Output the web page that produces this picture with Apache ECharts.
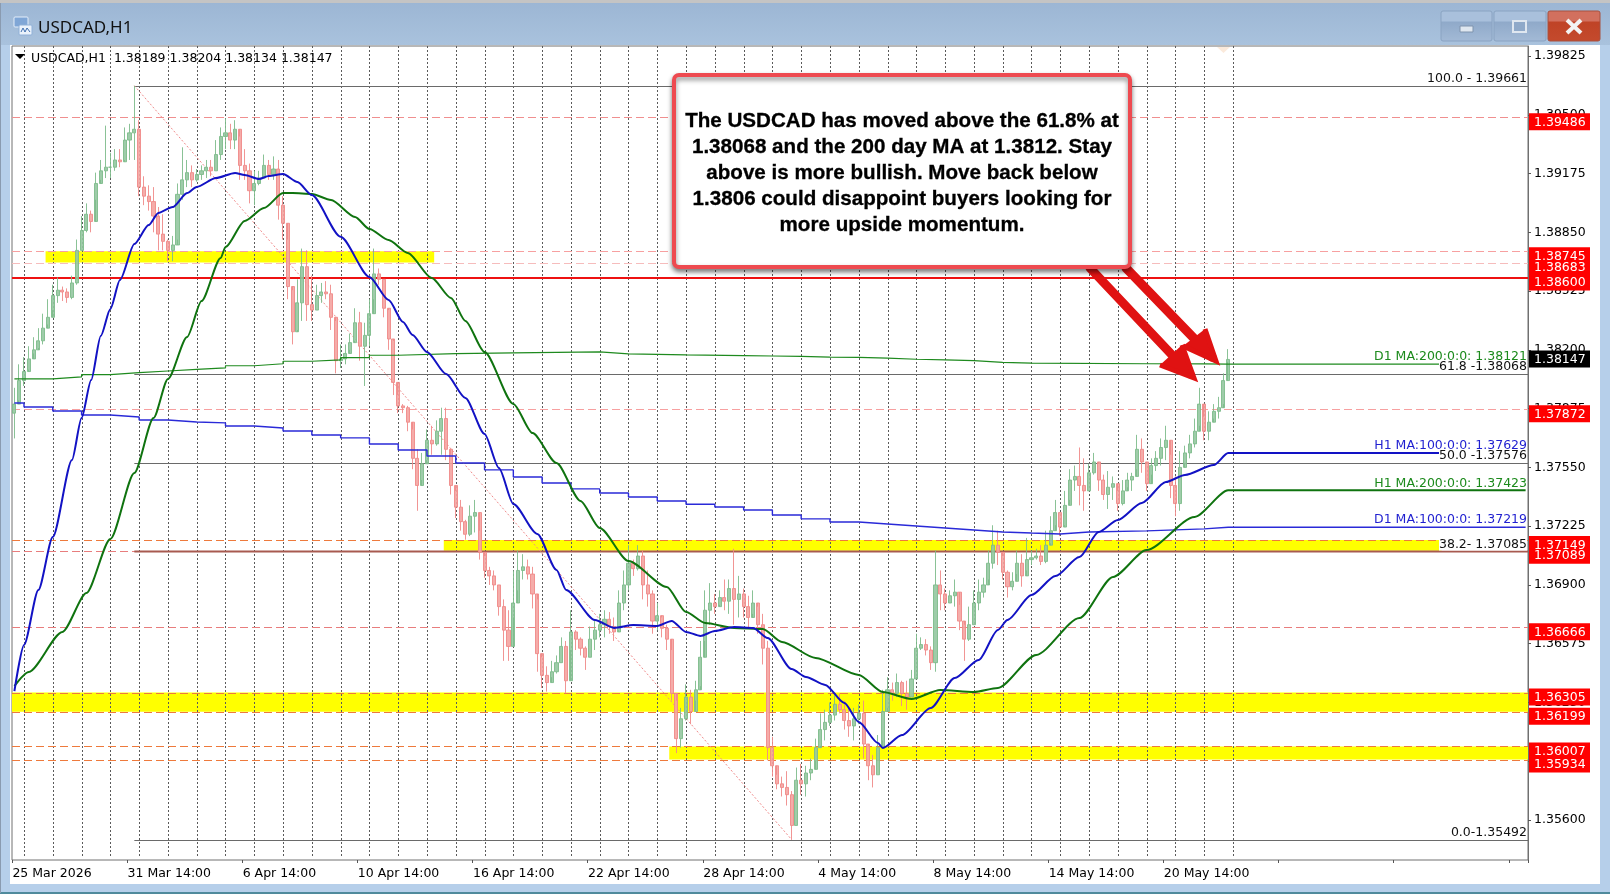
<!DOCTYPE html>
<html><head><meta charset="utf-8"><title>USDCAD,H1</title>
<style>html,body{margin:0;padding:0;background:#fff}#c{width:1610px;height:894px}</style>
<script src="https://cdn.jsdelivr.net/npm/echarts@6/dist/echarts.min.js"></script>
</head><body><div id="c"></div>
<script>
// ---- tick labels ----
const xTickLabels = ['25 Mar 2026','31 Mar 14:00','6 Apr 14:00','10 Apr 14:00','16 Apr 14:00','22 Apr 14:00','28 Apr 14:00','4 May 14:00','8 May 14:00','14 May 14:00','20 May 14:00'];
const yTicks = [1.39825,1.395,1.39175,1.3885,1.38525,1.382,1.37875,1.3755,1.37225,1.369,1.36575,1.3625,1.35925,1.356];
// ---- 4-hour price bars ----
const firstOpen = 1.3785;
const highs = [
1.3799,1.3812,1.3816,1.3822,1.3827,1.3832,1.3840,1.3848,1.3856,1.3860,
1.3855,1.3854,1.3861,1.3881,1.3894,1.3901,1.3897,1.3918,1.3925,1.3944,
1.3929,1.3931,1.3931,1.3943,1.3945,1.3966,1.3947,1.3916,1.3911,1.3910,
1.3899,1.3895,1.3881,1.3883,1.3912,1.3932,1.3925,1.3922,1.3920,1.3922,
1.3925,1.3925,1.3936,1.3943,1.3948,1.3945,1.3947,1.3938,1.3931,1.3923,
1.3919,1.3919,1.3928,1.3925,1.3927,1.3925,1.3905,1.3881,1.3853,1.3859,
1.3876,1.3875,1.3861,1.3856,1.3857,1.3858,1.3856,1.3836,1.3823,1.3823,
1.3829,1.3843,1.3841,1.3835,1.3848,1.3876,1.3865,1.3859,1.3842,1.3825,
1.3795,1.3790,1.3789,1.3776,1.3765,1.3763,1.3776,1.3778,1.3781,1.3788,
1.3788,1.3762,1.3742,1.3737,1.3726,1.3734,1.3737,1.3720,1.3706,1.3700,
1.3698,1.3690,1.3682,1.3676,1.3698,1.3709,1.3707,1.3704,1.3700,1.3682,
1.3650,1.3645,1.3648,1.3651,1.3661,1.3659,1.3676,1.3665,1.3661,1.3656,
1.3667,1.3670,1.3674,1.3676,1.3675,1.3672,1.3687,1.3698,1.3712,1.3704,
1.3712,1.3709,1.3698,1.3687,1.3680,1.3672,1.3668,1.3654,1.3626,1.3622,
1.3635,1.3632,1.3637,1.3659,1.3687,1.3691,1.3685,1.3687,1.3693,1.3693,
1.3710,1.3695,1.3688,1.3684,1.3687,1.3678,1.3674,1.3659,1.3606,1.3585,
1.3584,1.3587,1.3576,1.3589,1.3591,1.3590,1.3594,1.3605,1.3619,1.3621,
1.3625,1.3629,1.3630,1.3626,1.3623,1.3622,1.3624,1.3626,1.3601,1.3596,
1.3607,1.3632,1.3639,1.3636,1.3641,1.3637,1.3637,1.3643,1.3663,1.3661,
1.3660,1.3656,1.3709,1.3698,1.3688,1.3687,1.3693,1.3679,1.3668,1.3678,
1.3687,1.3693,1.3694,1.3709,1.3723,1.3720,1.3706,1.3698,1.3697,1.3709,
1.3707,1.3716,1.3709,1.3710,1.3712,1.3720,1.3728,1.3737,1.3730,1.3742,
1.3754,1.3756,1.3766,1.3760,1.3757,1.3763,1.3757,1.3751,1.3753,1.3750,
1.3742,1.3748,1.3752,1.3752,1.3773,1.3771,1.3757,1.3760,1.3764,1.3771,
1.3778,1.3762,1.3750,1.3764,1.3767,1.3773,1.3782,1.3799,1.3783,1.3786,
1.3790,1.3794,1.3807,1.38204];
const lows = [
1.3771,1.3792,1.3800,1.3809,1.3818,1.3821,1.3823,1.3834,1.3842,1.3846,
1.3847,1.3846,1.3848,1.3856,1.3875,1.3885,1.3885,1.3903,1.3914,1.3915,
1.3915,1.3919,1.3921,1.3925,1.3925,1.3925,1.3905,1.3900,1.3897,1.3885,
1.3875,1.3875,1.3869,1.3869,1.3881,1.3903,1.3910,1.3910,1.3913,1.3914,
1.3915,1.3916,1.3919,1.3925,1.3931,1.3931,1.3931,1.3914,1.3914,1.3901,
1.3900,1.3911,1.3915,1.3914,1.3914,1.3892,1.3881,1.3848,1.3823,1.3831,
1.3836,1.3836,1.3836,1.3842,1.3846,1.3848,1.3831,1.3807,1.3810,1.3812,
1.3820,1.3825,1.3814,1.3800,1.3822,1.3848,1.3856,1.3838,1.3820,1.3795,
1.3785,1.3785,1.3775,1.3754,1.3731,1.3748,1.3759,1.3762,1.3767,1.3762,
1.3759,1.3740,1.3727,1.3720,1.3715,1.3717,1.3719,1.3704,1.3694,1.3690,
1.3687,1.3673,1.3648,1.3648,1.3672,1.3687,1.3693,1.3693,1.3677,1.3642,
1.3633,1.3631,1.3639,1.3641,1.3647,1.3630,1.3654,1.3654,1.3651,1.3643,
1.3650,1.3654,1.3661,1.3661,1.3663,1.3659,1.3665,1.3676,1.3687,1.3695,
1.3698,1.3682,1.3678,1.3663,1.3665,1.3661,1.3654,1.3626,1.3597,1.3600,
1.3615,1.3613,1.3626,1.3634,1.3659,1.3668,1.3674,1.3679,1.3676,1.3674,
1.3668,1.3672,1.3672,1.3666,1.3674,1.3663,1.3646,1.3593,1.3584,1.3577,
1.3573,1.3568,1.3549,1.3557,1.3574,1.3573,1.3582,1.3593,1.3601,1.3604,
1.3612,1.3615,1.3619,1.3610,1.3606,1.3604,1.3613,1.3594,1.3582,1.3578,
1.3585,1.3604,1.3622,1.3626,1.3628,1.3623,1.3621,1.3628,1.3639,1.3654,
1.3651,1.3643,1.3642,1.3676,1.3676,1.3680,1.3678,1.3665,1.3648,1.3659,
1.3668,1.3676,1.3683,1.3693,1.3699,1.3701,1.3693,1.3683,1.3687,1.3696,
1.3689,1.3698,1.3701,1.3704,1.3701,1.3702,1.3713,1.3723,1.3717,1.3723,
1.3737,1.3742,1.3734,1.3731,1.3742,1.3751,1.3742,1.3737,1.3732,1.3737,
1.3731,1.3734,1.3744,1.3742,1.3754,1.3752,1.3742,1.3751,1.3753,1.3756,
1.3759,1.3738,1.3728,1.3731,1.3757,1.3760,1.3766,1.3778,1.3770,1.3770,
1.3782,1.3782,1.3790,1.38134];
const closes = [
1.3790,1.3803,1.3808,1.3815,1.3820,1.3825,1.3832,1.3838,1.3850,1.3853,
1.3852,1.3849,1.3857,1.3875,1.3886,1.3895,1.3891,1.3912,1.3919,1.3921,
1.3921,1.3925,1.3924,1.3936,1.3940,1.3942,1.3910,1.3905,1.3902,1.3894,
1.3884,1.3880,1.3875,1.3878,1.3906,1.3914,1.3918,1.3914,1.3917,1.3919,
1.3921,1.3919,1.3928,1.3938,1.3940,1.3936,1.3942,1.3922,1.3919,1.3908,
1.3912,1.3915,1.3922,1.3917,1.3920,1.3900,1.3890,1.3855,1.3830,1.3846,
1.3866,1.3845,1.3842,1.3850,1.3852,1.3851,1.3838,1.3814,1.3815,1.3818,
1.3824,1.3835,1.3822,1.3828,1.3840,1.3862,1.3859,1.3843,1.3826,1.3802,
1.3789,1.3788,1.3780,1.3760,1.3745,1.3757,1.3770,1.3768,1.3775,1.3782,
1.3765,1.3745,1.3733,1.3725,1.3718,1.3728,1.3730,1.3708,1.3698,1.3695,
1.3690,1.3678,1.3665,1.3656,1.3680,1.3698,1.3700,1.3696,1.3685,1.3652,
1.3640,1.3636,1.3642,1.3647,1.3656,1.3637,1.3664,1.3660,1.3655,1.3650,
1.3660,1.3665,1.3668,1.3671,1.3667,1.3664,1.3680,1.3690,1.3702,1.3699,
1.3706,1.3690,1.3685,1.3670,1.3673,1.3666,1.3660,1.3630,1.3605,1.3616,
1.3628,1.3620,1.3632,1.3650,1.3676,1.3680,1.3678,1.3683,1.3681,1.3688,
1.3682,1.3685,1.3678,1.3672,1.3680,1.3668,1.3655,1.3600,1.3590,1.3580,
1.3578,1.3574,1.3557,1.3582,1.3580,1.3586,1.3588,1.3600,1.3610,1.3614,
1.3618,1.3624,1.3621,1.3615,1.3612,1.3616,1.3619,1.3602,1.3590,1.3585,
1.3600,1.3620,1.3632,1.3630,1.3636,1.3630,1.3628,1.3638,1.3655,1.3657,
1.3654,1.3647,1.3690,1.3685,1.3680,1.3684,1.3686,1.3670,1.3660,1.3668,
1.3680,1.3686,1.3690,1.3702,1.3712,1.3708,1.3697,1.3689,1.3692,1.3702,
1.3695,1.3704,1.3705,1.3706,1.3703,1.3712,1.3720,1.3730,1.3722,1.3734,
1.3748,1.3750,1.3745,1.3742,1.3752,1.3758,1.3748,1.3740,1.3744,1.3746,
1.3735,1.3742,1.3748,1.3750,1.3765,1.3758,1.3746,1.3756,1.3760,1.3766,
1.3770,1.3745,1.3735,1.3755,1.3763,1.3768,1.3775,1.3790,1.3775,1.3780,
1.3786,1.3788,1.3803,1.38147];
// ---- moving averages: bar number and value ----
const h1Ma100Bars = [0,2,5,8,12,14,16,18,20,22,25,28,30,33,36,38,42,46,48,51,53,56,59,62,68,74,78,81,83,86,90,94,98,101,104,109,113,115,121,125,129,134,137,140,143,146,150,154,157,162,165,169,173,176,180,181,185,191,196,201,205,207,212,217,222,226,230,235,240,244,250,253,315];
const h1Ma100 = [1.36313,1.36568,1.36872,1.37165,1.37591,1.37823,1.38033,1.38277,1.38426,1.38586,1.38785,1.38890,1.38957,1.38990,1.39067,1.39101,1.39150,1.39178,1.39167,1.39145,1.39161,1.39172,1.39128,1.39056,1.38825,1.38603,1.38476,1.38354,1.38282,1.38188,1.38066,1.37934,1.37735,1.37547,1.37348,1.37182,1.36983,1.36872,1.36706,1.36662,1.36678,1.36673,1.36701,1.36640,1.36618,1.36645,1.36667,1.36662,1.36607,1.36435,1.36391,1.36347,1.36247,1.36142,1.36026,1.35998,1.36070,1.36219,1.36385,1.36485,1.36651,1.36706,1.36844,1.36949,1.37054,1.37193,1.37259,1.37353,1.37469,1.37508,1.37563,1.37629,1.37629];
const h1Ma200Bars = [0,3,10,15,20,25,29,32,36,39,43,44,48,52,56,58,62,66,71,74,78,82,87,91,94,98,104,108,113,118,122,128,136,140,144,150,156,160,167,176,181,187,193,200,205,213,222,229,236,246,253,315];
const h1Ma200 = [1.36341,1.36419,1.36640,1.36855,1.37154,1.37519,1.37823,1.38039,1.38271,1.38470,1.38708,1.38769,1.38913,1.38984,1.39067,1.39067,1.39062,1.39029,1.38935,1.38868,1.38807,1.38736,1.38597,1.38487,1.38360,1.38188,1.37901,1.37740,1.37574,1.37364,1.37215,1.37032,1.36889,1.36750,1.36689,1.36662,1.36656,1.36584,1.36496,1.36402,1.36308,1.36269,1.36319,1.36308,1.36330,1.36513,1.36717,1.36944,1.37093,1.37276,1.37423,1.37423];
const d1Ma200Bars = [0,8,14,20,26,32,38,44,50,56,62,68,74,80,92,104,122,128,134,140,152,158,164,170,176,182,188,194,200,206,212,236,248,253,315];
const d1Ma200 = [1.38039,1.38050,1.38063,1.38074,1.38083,1.38092,1.38100,1.38112,1.38123,1.38137,1.38144,1.38157,1.38170,1.38179,1.38183,1.38189,1.38178,1.38175,1.38172,1.38168,1.38166,1.38164,1.38160,1.38158,1.38154,1.38148,1.38145,1.38140,1.38131,1.38127,1.38123,1.38122,1.38121,1.38121,1.38121];
const d1Ma100Bars = [0,2,8,14,20,26,32,38,44,50,56,62,68,74,80,86,92,98,104,110,116,122,128,134,140,146,152,158,164,170,176,182,188,194,200,206,212,218,224,236,248,253,315];
const d1Ma100 = [1.37906,1.37884,1.37862,1.37840,1.37829,1.37812,1.37801,1.37796,1.37779,1.37768,1.37751,1.37729,1.37713,1.37679,1.37646,1.37613,1.37574,1.37536,1.37497,1.37464,1.37431,1.37408,1.37386,1.37364,1.37346,1.37331,1.37314,1.37287,1.37265,1.37248,1.37237,1.37226,1.37215,1.37204,1.37193,1.37187,1.37182,1.37193,1.37199,1.37210,1.37219,1.37219,1.37219];
const maLabels = ['D1 MA:200:0:0: 1.38121','H1 MA:100:0:0: 1.37629','H1 MA:200:0:0: 1.37423','D1 MA:100:0:0: 1.37219'];
const maLabelPrices = [1.38121,1.37629,1.37423,1.37219];
// ---- horizontal levels ----
const levelPrices = [1.39486,1.38683,1.38745,1.37872,1.37149,1.37089,1.36666,1.36305,1.36199,1.36007,1.35934];
const solidLevel = 1.386;
const lastPrice = 1.38147;
// ---- fibonacci ----
const fibPrices = [1.39661,1.38068,1.37576,1.37085,1.35492];
const fibLabels = ['100.0 - 1.39661','61.8 -1.38068','50.0 -1.37576','38.2- 1.37085','0.0-1.35492'];
const fibStartBar = 25, fibEndBar = 162;
// ---- yellow zones: first bar, last bar, upper, lower ----
const zoneStarts = [7,90,0,137];
const zoneEnds = [87,297,315,315];
const zoneTops = [1.38745,1.37149,1.36305,1.36007];
const zoneBottoms = [1.38683,1.37089,1.36199,1.35934];

const barsPerLabel = 24, slotCount = 316, lastSlot = slotCount - 1;
const categories = Array.from({length: slotCount}, (_, i) => i % barsPerLabel === 0 ? (xTickLabels[i / barsPerLabel] || '') : '');
const gridBars = []; for (let b = 2; b <= 254; b += 6) gridBars.push(b);
const ohlc = closes.map((c, i) => [i === 0 ? firstOpen : closes[i - 1], c, lows[i], highs[i]]);
const pairs = (xs, ys) => xs.map((x, i) => [x, ys[i]]);

const FONT = '"DejaVu Sans",sans-serif';
const FS = 12.5;
const levelStyle = p => {
  if (p === 1.38683) return '#f6bcbc';
  if (p === 1.38745 || p === 1.37872) return '#f7a0a0';
  if (p === 1.39486) return '#f08f8f';
  if (p === 1.37149 || p === 1.36305 || p === 1.36199 || p === 1.36007 || p === 1.35934) return '#ee7a3c';
  return '#e87d7d';
};
function hLine(api, params, x0, x1, p, style) {
  const y = Math.round(api.coord([0, p])[1]) + 0.5;
  return {type: 'line', shape: {x1: x0, y1: y, x2: x1, y2: y}, style, silent: true};
}

const btnGrad = () => new echarts.graphic.LinearGradient(0,0,0,1,[{offset:0,color:'#a9c0dc'},{offset:0.35,color:'#a9c0dc'},{offset:0.36,color:'#8fa9c9'},{offset:1,color:'#a3bad6'}]);
const chrome = [
  {type:'rect', z:-5, shape:{x:0,y:0,width:1610,height:894}, style:{fill:'#b6cfea'}},
  {type:'rect', z:-4, shape:{x:0,y:0,width:1610,height:3}, style:{fill:'#c4c4c4'}},
  {type:'rect', z:-4, shape:{x:0,y:3,width:1610,height:42}, style:{fill:new echarts.graphic.LinearGradient(0,0,0,1,[{offset:0,color:'#9cb6d4'},{offset:1,color:'#a9c2dd'}])}},
  {type:'rect', z:-3, shape:{x:10,y:45,width:1590,height:839}, style:{fill:'#fff'}},
  {type:'rect', z:-3, shape:{x:0,y:892,width:1610,height:2}, style:{fill:'#4f8a9c'}},
  {type:'rect', z:-3, shape:{x:0,y:3,width:1,height:890}, style:{fill:'#8a9bb0'}},
  // window icon
  {type:'rect', z:-2, shape:{x:14,y:17,width:14,height:10,r:1}, style:{fill:'#7fa6d6',stroke:'#e4eefa',lineWidth:1}},
  {type:'rect', z:-2, shape:{x:19,y:25,width:13,height:10,r:1}, style:{fill:'#eaf2fb',stroke:'#8fb0d8',lineWidth:1}},
  {type:'polyline', z:-1, shape:{points:[[21,32],[23,28],[25,32],[27,28],[30,32]]}, style:{stroke:'#3f6fb0',fill:'none',lineWidth:1}},
  {type:'text', z:-1, x:38, y:28.5, style:{text:'USDCAD,H1', fill:'#111', font:'17px "Noto Sans",sans-serif', textVerticalAlign:'middle'}},
  // window buttons
  {type:'rect', z:-2, shape:{x:1441,y:11,width:51,height:30,r:2}, style:{fill:btnGrad(),stroke:'#8aa3c2',lineWidth:1}},
  {type:'rect', z:-1, shape:{x:1460,y:26,width:13,height:6}, style:{fill:'#dfe7f0',stroke:'#7f93ad',lineWidth:1}},
  {type:'rect', z:-2, shape:{x:1494,y:11,width:52,height:30,r:2}, style:{fill:btnGrad(),stroke:'#8aa3c2',lineWidth:1}},
  {type:'rect', z:-1, shape:{x:1513,y:21,width:13,height:11}, style:{fill:'#8fa9c9',stroke:'#dfe7f0',lineWidth:2}},
  {type:'rect', z:-2, shape:{x:1548,y:11,width:52,height:30,r:2}, style:{fill:new echarts.graphic.LinearGradient(0,0,0,1,[{offset:0,color:'#d2705e'},{offset:0.35,color:'#d2705e'},{offset:0.36,color:'#bf4326'},{offset:1,color:'#c44a2d'}]),stroke:'#a8503f',lineWidth:1}},
  {type:'polyline', z:-1, shape:{points:[[1567,20],[1581,33]]}, style:{stroke:'#f3f3f3',fill:'none',lineWidth:4}},
  {type:'polyline', z:-1, shape:{points:[[1581,20],[1567,33]]}, style:{stroke:'#f3f3f3',fill:'none',lineWidth:4}},
];
const overlay = [
  // chart header
  {type:'polygon', z:60, shape:{points:[[15,54],[25,54],[20,59]]}, style:{fill:'#000'}},
  {type:'text', z:60, x:31, y:58.5, style:{text:'USDCAD,H1  1.38189 1.38204 1.38134 1.38147', fill:'#000', font:FS+'px '+FONT, textVerticalAlign:'middle'}},
  {type:'polygon', z:5, shape:{points:[[1217,47],[1230,47],[1223.5,53]]}, style:{fill:'#fbeadb'}},
  // callout
  {type:'rect', z:90, shape:{x:674,y:75,width:456,height:192,r:5}, style:{fill:'#fff',stroke:'#ee4a50',lineWidth:4,shadowBlur:5,shadowOffsetX:0,shadowOffsetY:3,shadowColor:'rgba(0,0,0,0.45)'}},
  {type:'text', z:91, x:902, y:173, style:{
    text:'The USDCAD has moved above the 61.8% at\n1.38068 and the 200 day MA at 1.3812. Stay\nabove is more bullish. Move back below\n1.3806 could disappoint buyers looking for\nmore upside momentum.',
    fill:'#000', stroke:'#000', lineWidth:0.3, font:'bold 20.6px "Liberation Sans",Arial,sans-serif', lineHeight:26, textAlign:'center', textVerticalAlign:'middle'}},
  // arrows
  {type:'line', z:80, shape:{x1:1090,y1:268,x2:1190,y2:374}, style:{stroke:'#e01212',lineWidth:9,lineCap:'round'}},
  {type:'polyline', z:80, shape:{points:[[1160,365],[1194,378],[1182,345]]}, style:{stroke:'#e01212',fill:'#e01212',lineWidth:5,lineJoin:'miter'}},
  {type:'line', z:80, shape:{x1:1126,y1:268,x2:1212,y2:357}, style:{stroke:'#e01212',lineWidth:9,lineCap:'round'}},
  {type:'polyline', z:80, shape:{points:[[1183,346],[1216,361],[1205,329]]}, style:{stroke:'#e01212',fill:'#e01212',lineWidth:5,lineJoin:'miter'}},
];

const customBase = {type:'custom', coordinateSystem:'cartesian2d', silent:true, animation:false, clip:false, encode:{x:0,y:1}};
const chart = echarts.init(document.getElementById('c'), null, {renderer:'canvas'});
chart.setOption({
  animation:false,
  backgroundColor:'transparent',
  tooltip:{show:false}, legend:{show:false},
  grid:{left:12,right:82,top:46,height:814,backgroundColor:'#fff',show:true,borderColor:'#707070',borderWidth:1,containLabel:false},
  graphic:{elements:chrome.concat(overlay)},
  xAxis:{type:'category',data:categories,boundaryGap:true,
    axisLine:{show:false},
    axisTick:{show:true,interval:barsPerLabel-1,length:3,lineStyle:{color:'#555'}},
    axisLabel:{show:true,interval:barsPerLabel-1,hideOverlap:false,align:'left',color:'#000',fontFamily:FONT,fontSize:FS,margin:7,padding:[0,0,0,-2]},
    splitLine:{show:false}},
  yAxis:{type:'value',position:'right',min:1.353788,max:1.398803,scale:true,
    axisLine:{show:true,lineStyle:{color:'#707070'}},
    axisTick:{show:true,customValues:yTicks,length:3,lineStyle:{color:'#555'}},
    axisLabel:{show:true,customValues:yTicks,formatter:v=>v.toFixed(5),color:'#000',fontFamily:FONT,fontSize:FS,margin:6,padding:[3,0,0,0],showMinLabel:true,showMaxLabel:true},
    splitLine:{show:false}},
  series:[
    // yellow zones
    Object.assign({},customBase,{name:'zones',z:1,data:zoneStarts.map((s,i)=>[s,zoneTops[i],zoneEnds[i],zoneBottoms[i]]),
      renderItem(params,api){
        const a=api.coord([api.value(0),api.value(1)]), b=api.coord([api.value(2),api.value(3)]), h=api.size([1,0])[0]/2;
        return {type:'rect',shape:{x:a[0]-h,y:a[1],width:b[0]-a[0]+2*h,height:b[1]-a[1]},style:{fill:'#ffff00'}};
      }}),
    // vertical dotted day grid
    Object.assign({},customBase,{name:'dayGrid',z:1,data:gridBars.map(b=>[b,1.39]),
      renderItem(params,api){
        const x=Math.round(api.coord([api.value(0),1.39])[0])+0.5, c=params.coordSys;
        return {type:'line',shape:{x1:x,y1:c.y,x2:x,y2:c.y+c.height-2},style:{stroke:'#5a5a5a',lineWidth:1,lineDash:[2,2]}};
      }}),
    // dashed levels
    Object.assign({},customBase,{name:'levels',z:2,data:levelPrices.map(p=>[0,p]),
      renderItem(params,api){
        const c=params.coordSys,p=api.value(1);
        return hLine(api,params,c.x,c.x+c.width,p,{stroke:levelStyle(p),lineWidth:1,lineDash:[8,4]});
      }}),
    // fib lines
    Object.assign({},customBase,{name:'fibLines',z:2,data:fibPrices.map(p=>[fibStartBar,p]),
      renderItem(params,api){
        const c=params.coordSys,p=api.value(1),x=api.coord([api.value(0),p])[0];
        return hLine(api,params,x,c.x+c.width,p,p===1.37085?{stroke:'#a85a50',lineWidth:2}:{stroke:'#6a6a6a',lineWidth:1});
      }}),
    {type:'line',name:'fibTrend',z:2,silent:true,showSymbol:false,data:[[fibStartBar,fibPrices[0]],[fibEndBar,fibPrices[4]]],lineStyle:{color:'#f08a8a',width:1,type:[2,2]}},
    // solid level
    Object.assign({},customBase,{name:'solidLevel',z:3,data:[[0,solidLevel]],
      renderItem(params,api){
        const c=params.coordSys;const y=Math.round(api.coord([0,api.value(1)])[1]);
        return {type:'line',shape:{x1:c.x,y1:y,x2:c.x+c.width,y2:y},style:{stroke:'#ee1111',lineWidth:2}};
      }}),
    // price bars
    {type:'candlestick',name:'USDCAD,H1',z:4,silent:true,barWidth:3.6,data:ohlc,
      itemStyle:{color:'#94c6a0',color0:'#f4a3a0',borderColor:'#7dbb8b',borderColor0:'#f08a88',borderWidth:1,opacity:0.9}},
    // moving averages
    {type:'line',name:'D1 MA 200',z:5,silent:true,showSymbol:false,step:'end',data:pairs(d1Ma200Bars,d1Ma200),lineStyle:{color:'#1e8a1e',width:1.2}},
    {type:'line',name:'D1 MA 100',z:5,silent:true,showSymbol:false,step:'end',data:pairs(d1Ma100Bars,d1Ma100),lineStyle:{color:'#2a2ad8',width:1.4}},
    {type:'line',name:'H1 MA 200',z:6,silent:true,showSymbol:false,smooth:0.25,smoothMonotone:'x',data:pairs(h1Ma200Bars,h1Ma200),lineStyle:{color:'#0f730f',width:2}},
    {type:'line',name:'H1 MA 100',z:6,silent:true,showSymbol:false,smooth:0.25,smoothMonotone:'x',data:pairs(h1Ma100Bars,h1Ma100),lineStyle:{color:'#1212c4',width:2}},
    // MA captions
    Object.assign({},customBase,{name:'maCaptions',z:7,data:maLabelPrices.map((p,i)=>[lastSlot,p,i]),
      renderItem(params,api){
        const c=params.coordSys,i=api.value(2),y=api.coord([lastSlot,api.value(1)])[1];
        return {type:'text',x:c.x+c.width-1,y:y-7,style:{text:maLabels[i],fill:i===0||i===2?'#1c8a1c':'#1f1fd0',font:FS+'px '+FONT,textAlign:'right',textVerticalAlign:'middle'}};
      }}),
    // fib captions
    Object.assign({},customBase,{name:'fibCaptions',z:8,data:fibPrices.map((p,i)=>[lastSlot,p,i]),
      renderItem(params,api){
        const c=params.coordSys,i=api.value(2),y=api.coord([lastSlot,api.value(1)])[1];
        return {type:'text',x:c.x+c.width-1,y:y-7,style:{text:fibLabels[i],fill:'#111',font:FS+'px '+FONT,lineHeight:12,textAlign:'right',textVerticalAlign:'middle',backgroundColor:(i>0&&i<4)?'#fff':'transparent'}};
      }}),
    // price badges
    Object.assign({},customBase,{name:'badges',z:20,data:levelPrices.concat([solidLevel,lastPrice]).map(p=>[lastSlot,p]),
      renderItem(params,api){
        const c=params.coordSys,p=api.value(1),y=api.coord([lastSlot,p])[1];
        const black=p===lastPrice;
        return {type:'group',children:[
          {type:'rect',shape:{x:c.x+c.width+1,y:y+(black?-9:-4),width:61,height:17},style:{fill:black?'#000':'#ff0000'},z2:1},
          {type:'text',x:c.x+c.width+6,y:y+(black?0:5.5),style:{text:p.toFixed(5),fill:'#fff',font:FS+'px '+FONT,textVerticalAlign:'middle'},z2:2}
        ]};
      }}),
  ]
});
</script></body></html>
